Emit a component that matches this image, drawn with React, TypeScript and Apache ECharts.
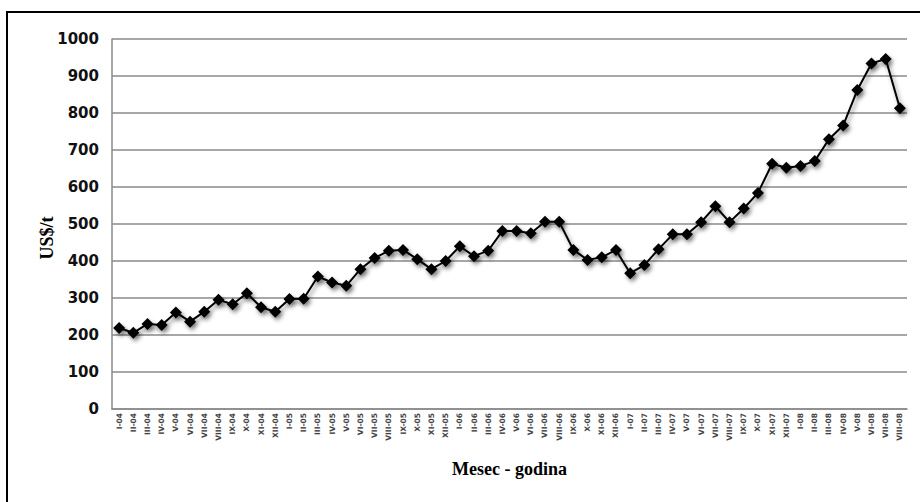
import React, { useEffect, useRef } from "react";
import * as echarts from "echarts";

const months = ["I", "II", "III", "IV", "V", "VI", "VII", "VIII", "IX", "X", "XI", "XII"];
const years = ["04", "05", "06", "07", "08"];
const categories: string[] = [];
years.forEach((y) => months.forEach((m) => categories.push(`${m}-${y}`)));
categories.length = 56; // I-04 ... VIII-08

const prices = [
  219, 206, 230, 227, 261, 236, 263, 295, 283, 313, 275, 263,
  297, 298, 358, 342, 333, 378, 408, 428, 430, 405, 378, 400,
  440, 413, 428, 481, 481, 475, 506, 506, 430, 403, 410, 430,
  367, 389, 432, 472, 472, 505, 548, 505, 542, 584, 663, 652,
  657, 670, 729, 766, 862, 934, 946, 813,
];

const yTicks = { min: 0, max: 1000, interval: 100 };

export default function App() {
  const ref = useRef<HTMLDivElement>(null);
  useEffect(() => {
    document.body.style.margin = "0";
    const chart = echarts.init(ref.current!, undefined, { renderer: "svg" });
    chart.setOption({
      animation: false,
      backgroundColor: "#ffffff",
      graphic: [
        {
          type: "rect",
          shape: { x: 7, y: 12, width: 940, height: 520 },
          style: { fill: "none", stroke: "#000", lineWidth: 2 },
          silent: true,
        },
      ],
      grid: { left: 112, right: 13, top: 39, bottom: 93 },
      xAxis: {
        type: "category",
        data: categories,
        boundaryGap: true,
        name: "Mesec - godina",
        nameLocation: "middle",
        nameGap: 51,
        nameTextStyle: {
          fontFamily: "Liberation Serif",
          fontWeight: "bold",
          fontSize: 18,
          color: "#000",
        },
        axisLine: { show: true, lineStyle: { color: "#8a8a8a", width: 1.5 } },
        axisTick: { show: false },
        axisLabel: {
          interval: 0,
          rotate: 90,
          fontSize: 7.5,
          fontFamily: "DejaVu Sans",
          fontWeight: "bold",
          color: "#444",
          margin: 4,
        },
      },
      yAxis: {
        type: "value",
        min: yTicks.min,
        max: yTicks.max,
        interval: yTicks.interval,
        name: "US$/t",
        nameLocation: "middle",
        nameGap: 56,
        nameMoveOverlap: false,
        nameRotate: 90,
        nameTextStyle: {
          fontFamily: "Liberation Serif",
          fontWeight: "bold",
          fontSize: 18,
          color: "#000",
          padding: [0, 28, 0, 0],
        },
        axisLine: { show: true, lineStyle: { color: "#8a8a8a", width: 1.5 } },
        axisTick: { show: false },
        axisLabel: {
          formatter: (v: number) => String(v),
          fontFamily: "DejaVu Sans",
          fontWeight: "bold",
          fontSize: 15,
          color: "#111",
          margin: 13,
        },
        splitLine: { show: true, lineStyle: { color: "#8a8a8a", width: 1.5 } },
      },
      series: [
        {
          type: "line",
          data: prices,
          symbol: "diamond",
          symbolSize: 12,
          itemStyle: {
            color: "#000",
            shadowColor: "rgba(0,0,0,0.45)",
            shadowBlur: 4,
            shadowOffsetX: 2,
            shadowOffsetY: 3,
          },
          lineStyle: {
            color: "#000",
            width: 2,
            shadowColor: "rgba(0,0,0,0.45)",
            shadowBlur: 4,
            shadowOffsetX: 2,
            shadowOffsetY: 3,
          },
        },
      ],
    });
    return () => chart.dispose();
  }, []);
  return <div ref={ref} style={{ width: 920, height: 502 }} />;
}
